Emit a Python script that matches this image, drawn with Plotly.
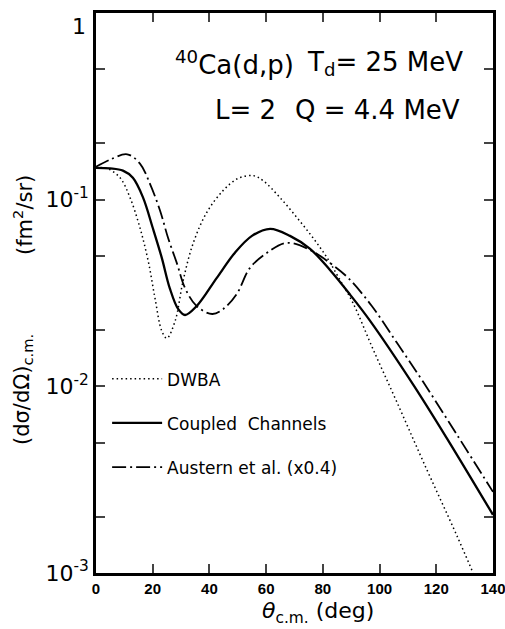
import plotly.graph_objects as go

# ---- data ----
cc_theta = [0, 5, 9.5, 13, 16.6, 20, 23.2, 26, 29, 31.4, 35.5, 42.6, 49, 55, 61.4, 68.4, 75.5, 82.5,
            89.6, 96.6, 111.8, 123.8, 140]
cc_sigma = [0.148, 0.147, 0.143, 0.131, 0.1025, 0.0707, 0.0488, 0.0336, 0.0259, 0.0241, 0.0269, 0.0381,
            0.0520, 0.0640, 0.0698, 0.0640, 0.0545, 0.0420, 0.0310, 0.0225, 0.01025, 0.00525, 0.00205]

dw_theta = [0, 3.9, 8.5, 12, 15.5, 18.4, 20.8, 23.2, 25, 27.9, 30.7, 34.2, 39, 44.8, 50, 55.4, 58.9,
            64.9, 70.9, 76.5, 81.5, 86, 90.6, 97.7, 106, 115.3, 127.3, 133]
dw_sigma = [0.148, 0.147, 0.131, 0.1025, 0.0707, 0.047, 0.0297, 0.0198, 0.0181, 0.0224, 0.0367, 0.058,
            0.0851, 0.1118, 0.1297, 0.1346, 0.1265, 0.1025, 0.0800, 0.0625, 0.0488, 0.0372, 0.0280,
            0.0158, 0.0083, 0.00398, 0.00158, 0.001]

au_theta = [0, 5, 11, 15.5, 19, 22.6, 25.4, 28.6, 31.4, 35.5, 41, 44.8, 49.6, 54.3, 60.3, 67.3, 75.5,
            82.5, 89, 97.2, 106, 115.3, 127.3, 140]
au_sigma = [0.150, 0.164, 0.175, 0.156, 0.122, 0.0873, 0.0625, 0.0453, 0.0336, 0.0269, 0.0244, 0.0259,
            0.0312, 0.0431, 0.0519, 0.0587, 0.0538, 0.0458, 0.0380, 0.0270, 0.0172, 0.0106, 0.0055,
            0.00272]

x_ticks = [0, 20, 40, 60, 80, 100, 120, 140]
y_ticks = [0.001, 0.002, 0.005, 0.01, 0.02, 0.05, 0.1, 0.2, 0.5, 1]
y_ticktext = ["10<sup>-3</sup>", "", "", "10<sup>-2</sup>", "", "", "10<sup>-1</sup>", "", "", ""]
y_top_label = "1"   # drawn just below the top tick, as in the reference

FONT = "DejaVu Sans"

fig = go.Figure()
fig.add_trace(go.Scatter(x=dw_theta, y=dw_sigma, mode="lines", name="DWBA", legendgroup="a",
                         line=dict(color="black", width=1.5, dash="1.5px,3px", shape="spline", smoothing=1.0)))
fig.add_trace(go.Scatter(x=cc_theta, y=cc_sigma, mode="lines", name="Coupled  Channels", legendgroup="b",
                         line=dict(color="black", width=2.3, shape="spline", smoothing=1.0)))
fig.add_trace(go.Scatter(x=au_theta, y=au_sigma, mode="lines", name="Austern et al. (x0.4)", legendgroup="c",
                         line=dict(color="black", width=1.8, dash="14px,4px,2px,4px", shape="spline", smoothing=1.0)))

fig.update_layout(
    width=505, height=629,
    margin=dict(l=96, r=12, t=13, b=56),
    paper_bgcolor="white", plot_bgcolor="white",
    font=dict(family=FONT, color="black"),
    showlegend=True,
    legend=dict(x=0.028, y=0.378, xanchor="left", yanchor="top", bgcolor="rgba(0,0,0,0)",
                font=dict(size=17, family=FONT), tracegroupgap=19, itemwidth=50),
    xaxis=dict(range=[0, 140], tickvals=x_ticks, ticks="inside", ticklen=9, tickwidth=2,
               showline=True, linewidth=2.5, linecolor="black", mirror="ticks", showgrid=False,
               zeroline=False, automargin=False, ticklabeloverflow="allow",
               tickfont=dict(size=15, family="Liberation Sans", weight="bold")),
    yaxis=dict(type="log", range=[-3, 0], tickvals=y_ticks, ticktext=y_ticktext, ticks="inside",
               ticklen=9, tickwidth=2, showline=True, linewidth=2.5, linecolor="black",
               mirror="ticks", showgrid=False, zeroline=False, automargin=False,
               ticklabeloverflow="allow", tickfont=dict(size=22, family=FONT)),
)

fig.add_annotation(xref="paper", yref="paper", x=0, y=1, xanchor="right", yanchor="top",
                   xshift=-8, yshift=1, showarrow=False, text=y_top_label,
                   font=dict(size=22, family=FONT))

ann = dict(xref="paper", yref="paper", showarrow=False, font=dict(size=26, family=FONT))
fig.add_annotation(x=(173 - 96) / 397, y=(573 - 63) / 560, xanchor="left", yanchor="middle",
                   text="<sup>40</sup>Ca(d,p)", **ann)
fig.add_annotation(x=(305 - 96) / 397, y=(573 - 63) / 560, xanchor="left", yanchor="middle",
                   text="T<sub>d</sub>= 25 MeV", **ann)
fig.add_annotation(x=(213 - 96) / 397, y=(573 - 110) / 560, xanchor="left", yanchor="middle",
                   text="L= 2", **ann)
fig.add_annotation(x=(293 - 96) / 397, y=(573 - 110) / 560, xanchor="left", yanchor="middle",
                   text="Q = 4.4 MeV", **ann)

# axis titles
fig.add_annotation(xref="paper", yref="paper", x=(318 - 96) / 397, y=(573 - 612) / 560,
                   xanchor="center", yanchor="middle", showarrow=False,
                   text="<i>θ</i><sub>c.m.</sub> (deg)", font=dict(size=22, family=FONT))
fig.add_annotation(xref="paper", yref="paper", x=(23 - 96) / 397, y=(573 - 215) / 560,
                   xanchor="center", yanchor="middle", showarrow=False, textangle=-90,
                   text="(fm<sup>2</sup>/sr)", font=dict(size=21, family=FONT))
fig.add_annotation(xref="paper", yref="paper", x=(23 - 96) / 397, y=(573 - 390) / 560,
                   xanchor="center", yanchor="middle", showarrow=False, textangle=-90,
                   text="(dσ/dΩ)<sub>c.m.</sub>", font=dict(size=21, family=FONT))

# remove the browser's default 8px body margin so the 505x629 figure fills the window exactly
fig.write_html("out.html", config={"displayModeBar": False},
               post_script="document.body.style.margin='0px';document.body.style.overflow='hidden';")
